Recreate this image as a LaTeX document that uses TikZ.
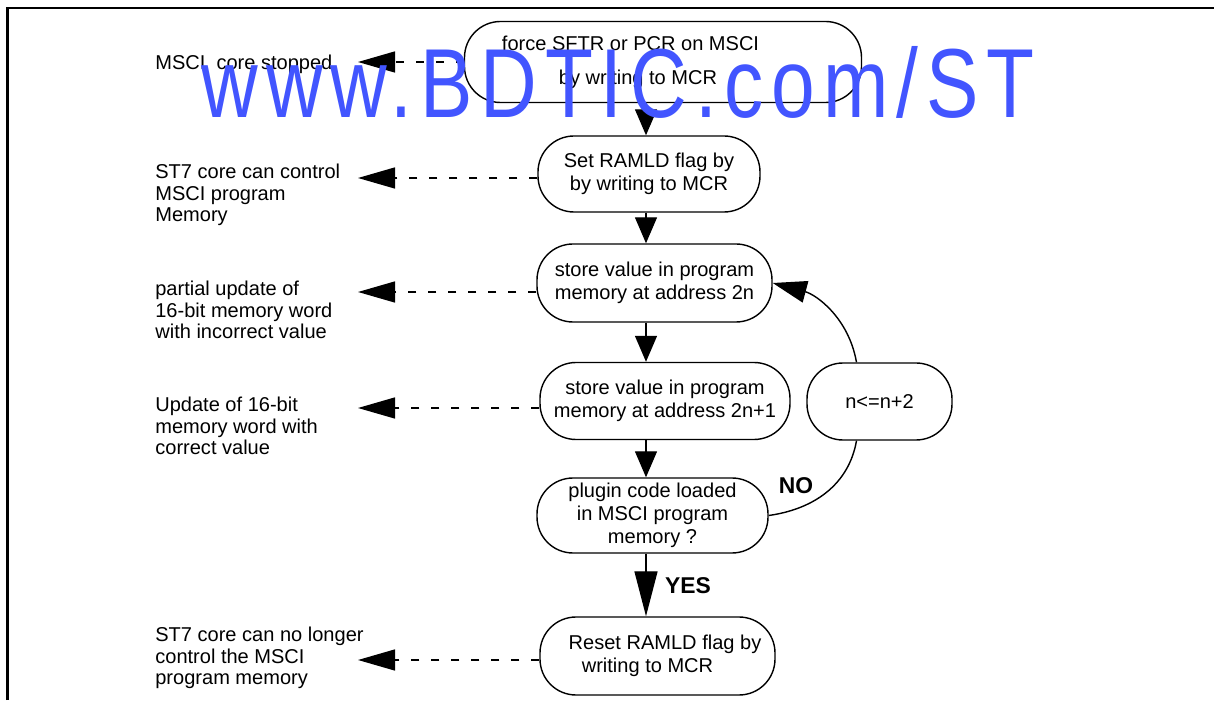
\documentclass[tikz,border=0pt]{standalone}
\usepackage{fontspec}
\setmainfont{Liberation Sans}
\newfontfamily\markfont[LetterSpace=10]{Liberation Sans}
\usetikzlibrary{arrows.meta}
\definecolor{markblue}{RGB}{66,85,255}
\begin{document}
\begin{tikzpicture}[
	stepbox/.style={draw,line width=0.8pt,rounded corners=0.72cm,align=center,inner sep=0pt,
		font=\fontsize{11.4}{13.1}\selectfont},
	note/.style={anchor=west,align=left,inner sep=0pt,font=\fontsize{11.4}{12.2}\selectfont},
	flow/.style={line width=0.8pt,-{Triangle[length=0.52cm,width=0.44cm]}},
	side/.style={line width=0.8pt,dash pattern=on 0.16cm off 0.24cm,-{Triangle[length=0.74cm,width=0.42cm]}},
	answer/.style={font=\fontsize{13}{15}\bfseries}
	]

		\useasboundingbox (0,0) rectangle (24.28,14);
		\draw [line width=1.4pt] (0.15,0) -- (0.15,13.84) -- (24.28,13.84);

		\node (force) at (13.26,12.76) [stepbox,minimum width=7.94cm,minimum height=1.62cm]
		{force SFTR or PCR on MSCI\hspace*{1.3cm}\\[0.22cm]by writing to MCR\hspace*{1cm}};
		\node (set) at (12.98,10.52) [stepbox,minimum width=4.44cm,minimum height=1.52cm]
		{Set RAMLD flag by\\by writing to MCR};
		\node (store1) at (13.09,8.34) [stepbox,minimum width=4.7cm,minimum height=1.56cm]
		{store value in program\\memory at address 2n};
		\node (store2) at (13.30,5.98) [stepbox,minimum width=5.0cm,minimum height=1.54cm]
		{store value in program\\memory at address 2n+1};
		\node (incr) at (17.59,5.97) [stepbox,minimum width=2.9cm,minimum height=1.54cm] {n<=n+2};
		\node (plugin) at (13.05,3.69) [stepbox,minimum width=4.62cm,minimum height=1.5cm]
		{plugin code loaded\\in MSCI program\\memory ?};
		\node (reset) at (13.15,0.88) [stepbox,minimum width=4.7cm,minimum height=1.56cm]
		{\hspace*{0.3cm}Reset RAMLD flag by\\writing to MCR\hspace*{0.4cm}};

		\node (stopped) at (3.1,12.72) [note] {MSCI\ \ core stopped};
		\node (control) at (3.1,10.1) [note] {ST7 core can control\\MSCI program\\Memory};
		\node (partial) at (3.1,7.8) [note] {partial update of\\16-bit memory word\\with incorrect value};
		\node (update) at (3.1,5.48) [note] {Update of 16-bit\\memory word with\\correct value};
		\node (nolonger) at (3.1,0.84) [note] {ST7 core can no longer\\control the MSCI\\program memory};

		\coordinate (col) at (12.92,0);
		\coordinate (tip) at (7.16,0);

		\draw [flow] (force.south -| col) -- (set.north -| col);
		\draw [flow] (set.south -| col) -- (store1.north -| col);
		\draw [flow] (store1.south -| col) -- (store2.north -| col);
		\draw [flow] (store2.south -| col) -- (plugin.north -| col);
		\draw [flow,-{Triangle[length=0.9cm,width=0.46cm]}] (plugin.south -| col) -- (reset.north -| col);

		\draw [side] (force.west) -- (force.west -| tip);
		\draw [side] ([yshift=-0.08cm]set.west) -- ([yshift=-0.08cm]set.west -| tip);
		\draw [side] ([yshift=-0.18cm]store1.west) -- ([yshift=-0.18cm]store1.west -| tip);
		\draw [side] ([yshift=-0.14cm]store2.west) -- ([yshift=-0.14cm]store2.west -| tip);
		\draw [side] ([yshift=-0.08cm]reset.west) -- ([yshift=-0.08cm]reset.west -| tip);

		\draw [line width=0.8pt] (plugin.east) to[out=8,in=-100] ([xshift=-0.46cm]incr.south);
		\draw [line width=0.8pt,-{Triangle[length=0.68cm,width=0.44cm]}]
		([xshift=-0.46cm]incr.north) to[out=100,in=-15] (store1.east);

		\node (no) at (15.92,4.28) [answer] {NO};
		\node (yes) at (13.76,2.28) [answer] {YES};

		\node (mark) at (12.36,11.64) [anchor=base,inner sep=0pt,text=markblue,
		font=\markfont\fontsize{55.8}{60}\selectfont] {\scalebox{0.8}[1]{www.BDTIC.com/ST}};

		\end{tikzpicture}
\end{document}
